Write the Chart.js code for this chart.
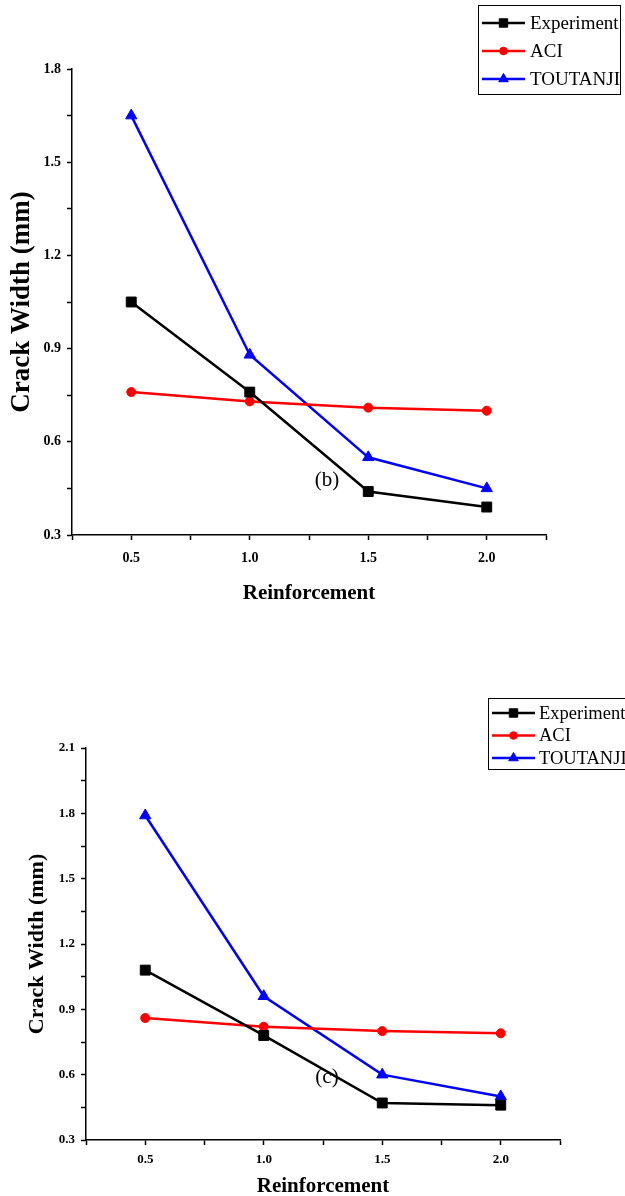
<!DOCTYPE html>
<html>
<head>
<meta charset="utf-8">
<script src="https://cdn.jsdelivr.net/npm/chart.js@4.4.1/dist/chart.umd.min.js"></script>
<style>
  html, body { margin: 0; padding: 0; background: #fff; overflow: hidden; }
  canvas { position: absolute; left: 0; }
  #chartB { top: 0; }
  #chartC { top: 610px; }
</style>
</head>
<body>
<canvas id="chartB" width="625" height="610"></canvas>
<canvas id="chartC" width="625" height="600"></canvas>
<script>
// values (b) and (c)
const reinforcement = [0.5, 1.0, 1.5, 2.0];
const xTickLabels = ['0.5', '1.0', '1.5', '2.0'];

const experimentB = [1.05, 0.76, 0.44, 0.39];
const aciB = [0.76, 0.73, 0.71, 0.70];
const toutanjiB = [1.65, 0.88, 0.55, 0.45];
const yTickLabelsB = ['0.3', '0.6', '0.9', '1.2', '1.5', '1.8'];

const experimentC = [1.08, 0.78, 0.47, 0.46];
const aciC = [0.86, 0.82, 0.80, 0.79];
const toutanjiC = [1.79, 0.96, 0.60, 0.50];
const yTickLabelsC = ['0.3', '0.6', '0.9', '1.2', '1.5', '1.8', '2.1'];

const serif = '"Liberation Serif", "Times New Roman", serif';

// Boxed legend drawn at a fixed spot, like the original figure.
const boxLegend = {
  id: 'boxLegend',
  afterDraw(chart, args, opts) {
    const ctx = chart.ctx;
    ctx.save();
    ctx.lineWidth = 1;
    ctx.strokeStyle = '#000';
    ctx.strokeRect(opts.left + 0.5, opts.top + 0.5, opts.width, opts.height);
    ctx.font = opts.font;
    ctx.textBaseline = 'middle';
    ctx.textAlign = 'left';
    chart.data.datasets.forEach((ds, i) => {
      const y = opts.firstRow + i * opts.rowGap;
      ctx.strokeStyle = ds.borderColor;
      ctx.lineWidth = ds.borderWidth;
      ctx.beginPath();
      ctx.moveTo(opts.lineStart, y);
      ctx.lineTo(opts.lineEnd, y);
      ctx.stroke();
      ctx.fillStyle = ds.borderColor;
      ctx.lineWidth = 1;
      Chart.helpers.drawPoint(ctx, { pointStyle: ds.pointStyle, radius: ds.pointRadius * 0.85, borderWidth: 1 },
        (opts.lineStart + opts.lineEnd) / 2, y);
      ctx.fillStyle = '#000';
      ctx.fillText(ds.label, opts.textX, y + 1);
    });
    ctx.restore();
  }
};

// Panel letter, e.g. "(b)".
const panelLabel = {
  id: 'panelLabel',
  afterDraw(chart, args, opts) {
    const ctx = chart.ctx;
    ctx.save();
    ctx.font = opts.font;
    ctx.fillStyle = '#000';
    ctx.textAlign = 'center';
    ctx.textBaseline = 'middle';
    ctx.fillText(opts.text, opts.x, opts.y);
    ctx.restore();
  }
};

const makeDatasets = (exp, aci, tou) => [
  { label: 'Experiment', data: reinforcement.map((x, i) => ({ x, y: exp[i] })),
    borderColor: '#000000', backgroundColor: '#000000', pointStyle: 'rect', pointRadius: 7 },
  { label: 'ACI', data: reinforcement.map((x, i) => ({ x, y: aci[i] })),
    borderColor: '#ff0000', backgroundColor: '#ff0000', pointStyle: 'circle', pointRadius: 4.5 },
  { label: 'TOUTANJI', data: reinforcement.map((x, i) => ({ x, y: tou[i] })),
    borderColor: '#0000ff', backgroundColor: '#0000ff', pointStyle: 'triangle', pointRadius: 6.5 },
].map(ds => ({ ...ds, borderWidth: 2.5, pointBorderWidth: 1, tension: 0 }));

const labelFor = (value, list) => {
  const hit = list.find(t => Math.abs(parseFloat(t) - value) < 1e-6);
  return hit === undefined ? '' : hit;
};

const makeOptions = (c) => ({
  responsive: false,
  animation: false,
  events: [],
  layout: { autoPadding: false, padding: { top: c.padTop, right: c.padRight, left: 0, bottom: 0 } },
  plugins: {
    legend: { display: false },
    tooltip: { enabled: false },
    boxLegend: c.legend,
    panelLabel: c.panel,
  },
  scales: {
    x: {
      type: 'linear',
      min: 0.25, max: 2.25,
      afterFit: (s) => { s.height = c.xHeight; },
      border: { display: true, color: '#000', width: 1.5 },
      grid: { drawOnChartArea: false, drawTicks: true, tickLength: 5, tickWidth: 1.5, tickColor: '#000' },
      ticks: {
        stepSize: 0.25, autoSkip: false, maxRotation: 0, padding: c.xTickPad,
        color: '#000', font: { family: serif, size: c.tickSize, weight: 'bold' },
        callback: (v) => labelFor(v, xTickLabels),
      },
      title: {
        display: true, text: 'Reinforcement', color: '#000',
        font: { family: serif, size: c.xTitleSize, weight: 'bold' },
        padding: { top: 0, bottom: c.xTitlePad },
      },
    },
    y: {
      type: 'linear',
      min: 0.3, max: c.yMax,
      afterFit: (s) => { s.width = c.yWidth; },
      border: { display: true, color: '#000', width: 1.5 },
      grid: { drawOnChartArea: false, drawTicks: true, tickLength: 5, tickWidth: 1.5, tickColor: '#000' },
      ticks: {
        stepSize: 0.15, autoSkip: false, padding: 6,
        color: '#000', font: { family: serif, size: c.tickSize, weight: 'bold' },
        callback: (v) => labelFor(v, c.yLabels),
      },
      title: {
        display: true, text: 'Crack Width (mm)', color: '#000',
        font: { family: serif, size: c.yTitleSize, weight: 'bold' },
        padding: { top: c.yTitlePad, bottom: 0 },
      },
    },
  },
});

new Chart(document.getElementById('chartB'), {
  type: 'line',
  data: { datasets: makeDatasets(experimentB, aciB, toutanjiB) },
  options: makeOptions({
    padTop: 69, padRight: 79, xHeight: 75, yWidth: 72, yMax: 1.8, yLabels: yTickLabelsB,
    tickSize: 14, xTickPad: 10, xTitleSize: 21, xTitlePad: 3.4, yTitleSize: 27, yTitlePad: 5.8,
    legend: { left: 478, top: 5, width: 142, height: 89, firstRow: 23, rowGap: 28,
              lineStart: 482, lineEnd: 525, textX: 530, font: '19px ' + serif },
    panel: { text: '(b)', x: 327, y: 480, font: '21px ' + serif },
  }),
  plugins: [boxLegend, panelLabel],
});

new Chart(document.getElementById('chartC'), {
  type: 'line',
  data: { datasets: makeDatasets(experimentC, aciC, toutanjiC) },
  options: makeOptions({
    padTop: 138, padRight: 65, xHeight: 70, yWidth: 86, yMax: 2.1, yLabels: yTickLabelsC,
    tickSize: 13, xTickPad: 7, xTitleSize: 21, xTitlePad: 10.4, yTitleSize: 22, yTitlePad: 23.8,
    legend: { left: 488, top: 88, width: 150, height: 71, firstRow: 103, rowGap: 22.5,
              lineStart: 492, lineEnd: 535, textX: 539, font: '18.5px ' + serif },
    panel: { text: '(c)', x: 327, y: 467, font: '21px ' + serif },
  }),
  plugins: [boxLegend, panelLabel],
});
</script>
</body>
</html>
